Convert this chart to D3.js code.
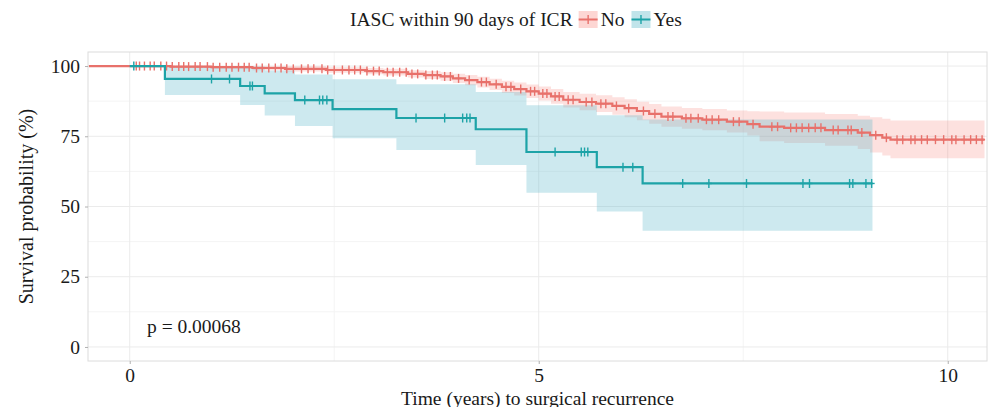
<!DOCTYPE html>
<html>
<head>
<meta charset="utf-8">
<script src="https://cdn.jsdelivr.net/npm/d3@7"></script>
<style>
  body { margin: 0; background: #fff; }
  svg text { font-family: "Liberation Serif", "DejaVu Serif", serif; fill: #1a1a1a; }
</style>
</head>
<body>
<div id="chart"></div>
<script>
// survival curve, group "No"
var noTime  = [-0.5, 0.5, 1.0, 1.5, 1.9, 2.4, 2.9, 3.1, 3.4, 3.6, 3.8, 3.95, 4.1, 4.25, 4.4, 4.55, 4.7, 4.85, 5.0, 5.15, 5.3, 5.5, 5.7, 5.9, 6.05, 6.2, 6.35, 6.5, 6.75, 7.0, 7.3, 7.55, 7.7, 8.0, 8.5, 8.9, 9.05, 9.2, 9.3];
var noSurv  = [100, 99.8, 99.6, 99.3, 99.0, 98.6, 98.2, 97.8, 97.2, 96.8, 96.3, 95.6, 95.0, 94.3, 93.5, 92.6, 91.8, 91.0, 90.2, 89.2, 88.0, 87.2, 86.6, 85.8, 85.0, 84.0, 83.0, 82.0, 81.4, 80.9, 80.2, 79.3, 78.4, 78.0, 77.2, 76.3, 75.4, 74.5, 73.8];
var noUpper = [100, 100, 100, 100, 99.9, 99.6, 99.3, 99.0, 98.5, 98.2, 97.8, 97.3, 96.8, 96.2, 95.5, 94.8, 94.1, 93.4, 92.7, 91.8, 90.8, 90.1, 89.6, 88.9, 88.2, 87.3, 86.5, 85.6, 85.1, 84.7, 84.2, 83.9, 83.8, 83.5, 82.9, 82.3, 81.8, 81.2, 80.6];
var noLower = [100, 99.4, 99.0, 98.5, 98.1, 97.6, 97.1, 96.6, 95.9, 95.4, 94.8, 94.0, 93.2, 92.4, 91.5, 90.4, 89.5, 88.6, 87.7, 86.6, 85.2, 84.3, 83.6, 82.7, 81.8, 80.7, 79.5, 78.4, 77.7, 77.1, 76.3, 75.3, 73.2, 72.6, 71.6, 70.5, 69.2, 68.2, 67.2];
var noEnd = 10.45;
var noCensor = [0.08, 0.12, 0.18, 0.25, 0.3, 0.38, 0.45, 0.52, 0.6, 0.66, 0.72, 0.8, 0.86, 0.95, 1.02, 1.1, 1.18, 1.25, 1.33, 1.4, 1.46, 1.55, 1.62, 1.7, 1.78, 1.85, 1.92, 2.0, 2.1, 2.18, 2.25, 2.35, 2.42, 2.5, 2.6, 2.68, 2.75, 2.82, 2.9, 2.98, 3.05, 3.15, 3.22, 3.3, 3.38, 3.45, 3.52, 3.62, 3.7, 3.76, 3.85, 3.92, 4.02, 4.15, 4.3, 4.36, 4.48, 4.6, 4.66, 4.78, 4.9, 4.95, 5.05, 5.1, 5.2, 5.25, 5.36, 5.42, 5.58, 5.65, 5.76, 5.82, 5.95, 6.1, 6.28, 6.42, 6.58, 6.64, 6.8, 6.86, 6.95, 7.05, 7.12, 7.2, 7.38, 7.45, 7.62, 7.85, 7.92, 8.08, 8.15, 8.22, 8.3, 8.38, 8.45, 8.6, 8.66, 8.78, 8.82, 8.95, 9.12, 9.25, 9.38, 9.45, 9.55, 9.6, 9.68, 9.75, 9.85, 9.95, 10.05, 10.1, 10.2, 10.28, 10.35, 10.42];

// survival curve, group "Yes"
var yesTime  = [0, 0.43, 1.35, 1.65, 2.02, 2.48, 3.26, 4.23, 4.85, 5.71, 6.27];
var yesSurv  = [100, 95.4, 92.9, 90.3, 87.9, 84.7, 81.5, 77.5, 69.4, 64.0, 58.2];
var yesUpper = [100, 100, 99.8, 98.4, 97.0, 95.3, 93.5, 90.8, 86.0, 82.5, 81.0];
var yesLower = [100, 89.7, 86.1, 82.4, 78.7, 74.3, 70.1, 64.8, 54.9, 48.2, 41.4];
var yesEnd = 9.08;
var yesCensor = [0.05, 1.0, 1.22, 1.47, 1.5, 2.14, 2.32, 2.36, 2.41, 3.5, 3.85, 4.07, 4.12, 4.16, 5.2, 5.52, 5.56, 5.6, 6.03, 6.15, 6.76, 7.08, 7.54, 8.23, 8.31, 8.8, 8.84, 9.0, 9.07];

var xTicks = [0, 5, 10];
var yTicks = [0, 25, 50, 75, 100];
var xMinor = [2.5, 7.5];
var yMinor = [12.5, 37.5, 62.5, 87.5];

var groups = [
  {name: "No",  time: noTime,  surv: noSurv,  up: noUpper,  lo: noLower,  end: noEnd,  cens: noCensor,  col: "#e8716b", fill: "#f8766d", op: 0.22},
  {name: "Yes", time: yesTime, surv: yesSurv, up: yesUpper, lo: yesLower, end: yesEnd, cens: yesCensor, col: "#1da3a7", fill: "#5bb7c9", op: 0.3}
];

var width = 995, height = 407;
var panel = {left: 88, right: 987, top: 52, bottom: 361};
var font = "'Liberation Serif', 'DejaVu Serif', serif";

var x = d3.scaleLinear().domain([-0.51, 10.48]).range([panel.left, panel.right]);
var y = d3.scaleLinear().domain([-5, 105]).range([panel.bottom, panel.top]);

var svg = d3.select("#chart").append("svg")
    .attr("width", width)
    .attr("height", height);

// grid
svg.selectAll(".xminor").data(xMinor).enter().append("line")
    .attr("x1", d => x(d)).attr("x2", d => x(d))
    .attr("y1", panel.top).attr("y2", panel.bottom)
    .attr("stroke", "#f4f4f4");
svg.selectAll(".yminor").data(yMinor).enter().append("line")
    .attr("x1", panel.left).attr("x2", panel.right)
    .attr("y1", d => y(d)).attr("y2", d => y(d))
    .attr("stroke", "#f4f4f4");
svg.selectAll(".xmajor").data(xTicks).enter().append("line")
    .attr("x1", d => x(d)).attr("x2", d => x(d))
    .attr("y1", panel.top).attr("y2", panel.bottom)
    .attr("stroke", "#ebebeb");
svg.selectAll(".ymajor").data(yTicks).enter().append("line")
    .attr("x1", panel.left).attr("x2", panel.right)
    .attr("y1", d => y(d)).attr("y2", d => y(d))
    .attr("stroke", "#ebebeb");

function pts(g, key) {
    var p = g.time.map((t, i) => [t, g[key][i]]);
    p.push([g.end, g[key][g[key].length - 1]]);
    return p;
}

var area = d3.area().curve(d3.curveStepAfter)
    .x(d => x(d[0])).y0(d => y(d[1])).y1(d => y(d[2]));
var line = d3.line().curve(d3.curveStepAfter)
    .x(d => x(d[0])).y(d => y(d[1]));

// ribbons
groups.forEach(g => {
    var band = g.time.map((t, i) => [t, g.lo[i], g.up[i]]);
    band.push([g.end, g.lo[g.lo.length - 1], g.up[g.up.length - 1]]);
    svg.append("path").datum(band)
        .attr("d", area)
        .attr("fill", g.fill)
        .attr("fill-opacity", g.op);
});

// curves + censor marks
groups.forEach(g => {
    svg.append("path").datum(pts(g, "surv"))
        .attr("d", line)
        .attr("fill", "none")
        .attr("stroke", g.col)
        .attr("stroke-width", 2.2);
    var survAt = t => g.surv[Math.max(0, d3.bisectRight(g.time, t) - 1)];
    var m = svg.selectAll(null).data(g.cens).enter().append("g")
        .attr("transform", d => "translate(" + x(d) + "," + y(survAt(d)) + ")");
    m.append("line").attr("x1", 0).attr("x2", 0).attr("y1", -4.5).attr("y2", 4.5)
        .attr("stroke", g.col).attr("stroke-width", 1.4);
    m.append("line").attr("x1", -3).attr("x2", 3).attr("y1", 0).attr("y2", 0)
        .attr("stroke", g.col).attr("stroke-width", 1.4);
});

// panel border
svg.append("rect")
    .attr("x", panel.left).attr("y", panel.top)
    .attr("width", panel.right - panel.left).attr("height", panel.bottom - panel.top)
    .attr("fill", "none").attr("stroke", "#dcdcdc");

// axes
var xAxis = svg.append("g")
    .attr("transform", "translate(0," + panel.bottom + ")")
    .call(d3.axisBottom(x).tickValues(xTicks).tickSize(3).tickPadding(4));
var yAxis = svg.append("g")
    .attr("transform", "translate(" + panel.left + ",0)")
    .call(d3.axisLeft(y).tickValues(yTicks).tickSize(3).tickPadding(5));
[xAxis, yAxis].forEach(a => {
    a.select(".domain").remove();
    a.selectAll(".tick line").attr("stroke", "#b0b0b0");
    a.selectAll(".tick text").attr("font-size", 19.5).attr("fill", "#1a1a1a")
        .style("font-family", font);
});

// axis titles
svg.append("text")
    .attr("x", (panel.left + panel.right) / 2).attr("y", 405)
    .attr("text-anchor", "middle").attr("font-size", 19.5)
    .text("Time (years) to surgical recurrence");
svg.append("text")
    .attr("transform", "translate(33," + (panel.top + panel.bottom) / 2 + ") rotate(-90)")
    .attr("text-anchor", "middle").attr("font-size", 20)
    .text("Survival probability (%)");

// p value
svg.append("text")
    .attr("x", 147).attr("y", 333)
    .attr("font-size", 19.5)
    .text("p = 0.00068");

// legend on top
var leg = svg.append("g").attr("transform", "translate(0,26)");
var legTitle = leg.append("text").attr("x", 350).attr("y", 0)
    .attr("font-size", 19.5).text("IASC within 90 days of ICR");
var lx = 350 + legTitle.node().getComputedTextLength() + 6;
groups.forEach(g => {
    var k = leg.append("g").attr("transform", "translate(" + lx + ",-15)");
    k.append("rect").attr("width", 19).attr("height", 17)
        .attr("fill", g.fill).attr("fill-opacity", g.op + 0.08);
    k.append("line").attr("x1", 0).attr("x2", 19).attr("y1", 8.5).attr("y2", 8.5)
        .attr("stroke", g.col).attr("stroke-width", 2);
    k.append("line").attr("x1", 9.5).attr("x2", 9.5).attr("y1", 4).attr("y2", 13)
        .attr("stroke", g.col).attr("stroke-width", 1.4);
    var t = leg.append("text").attr("x", lx + 22).attr("y", 0)
        .attr("font-size", 19.5).text(g.name);
    lx += 22 + t.node().getComputedTextLength() + 7;
});
</script>
</body>
</html>
